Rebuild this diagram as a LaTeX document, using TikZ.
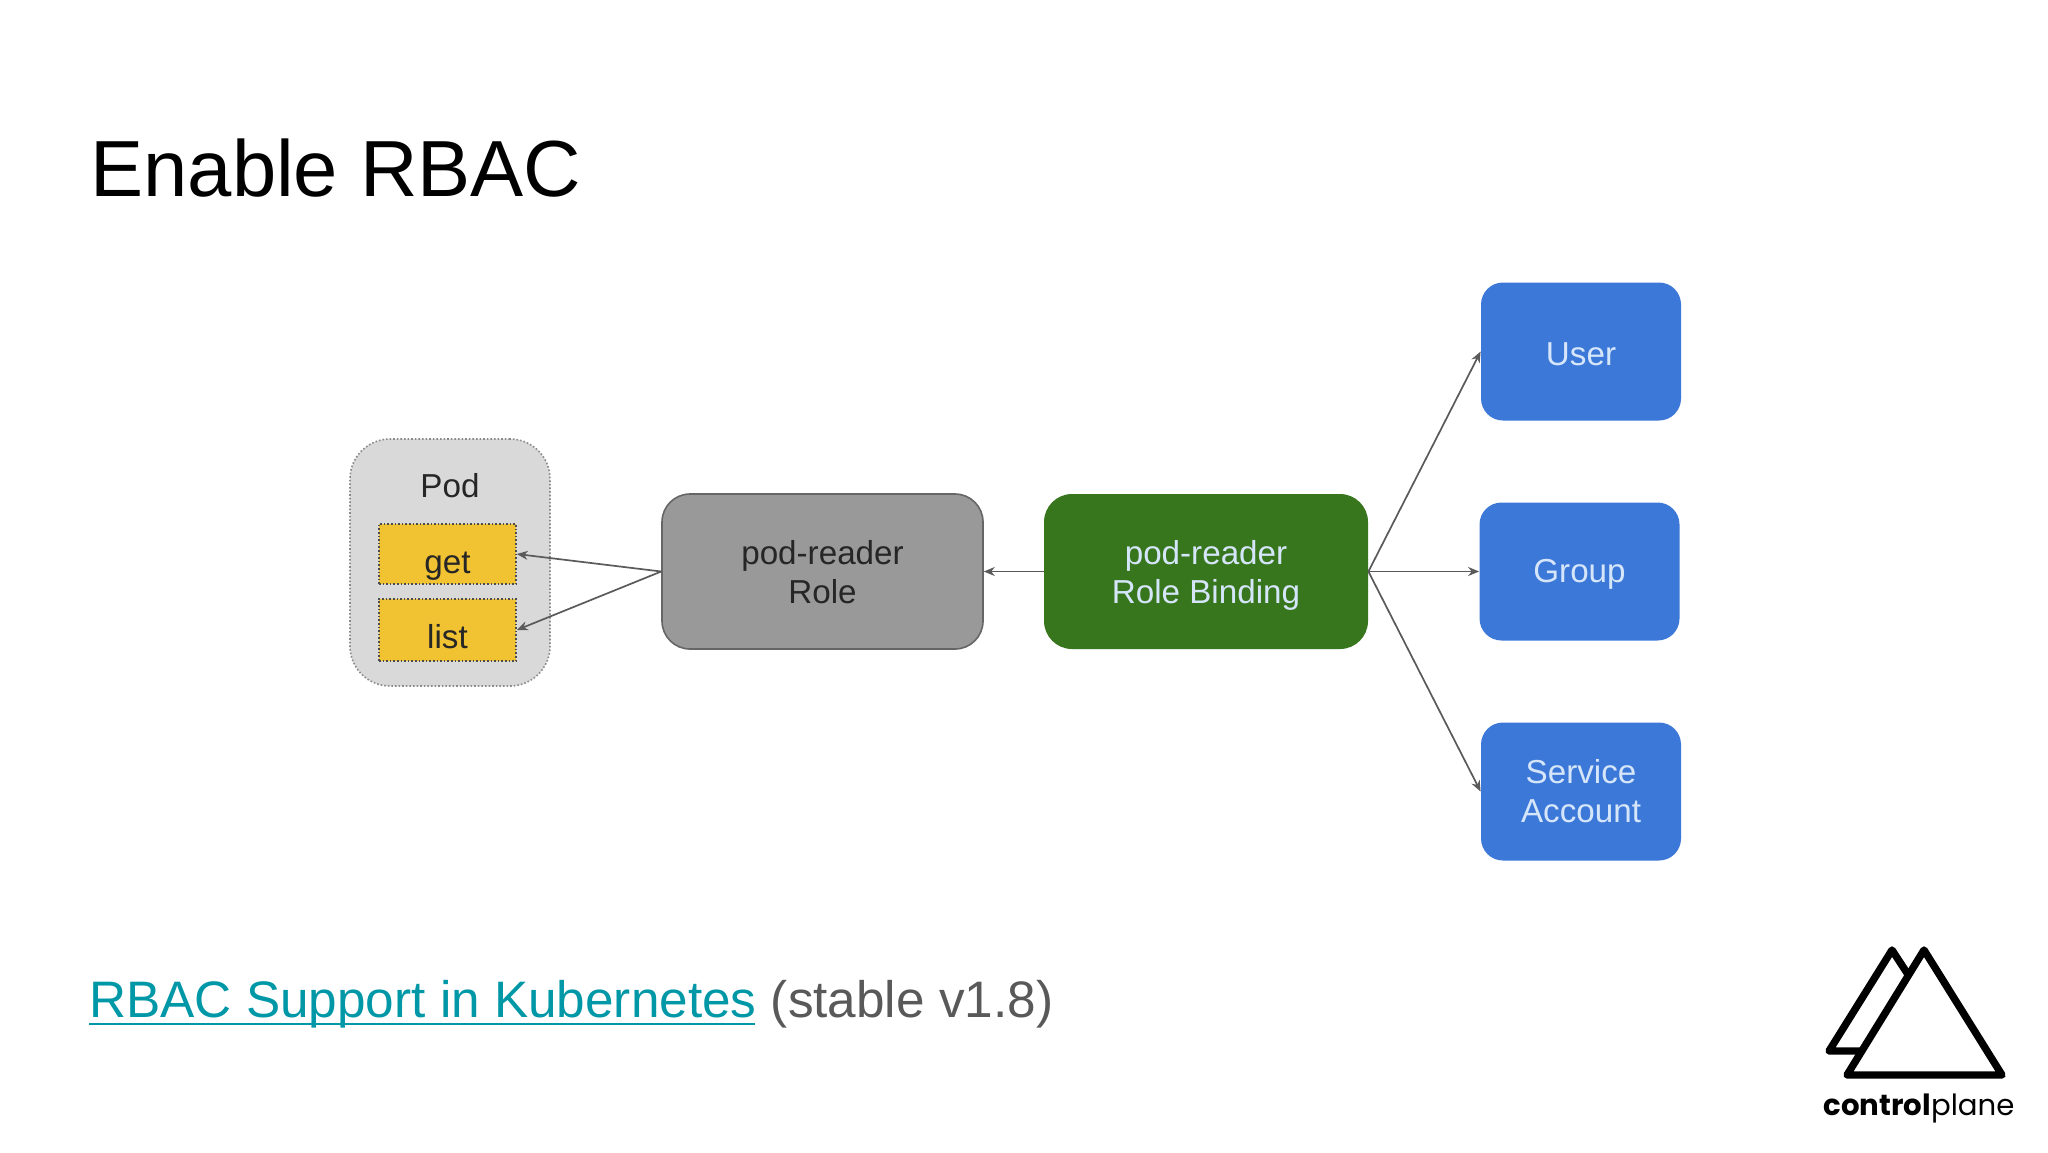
\documentclass[tikz,border=0pt]{standalone}
\usepackage{fontspec}
\setmainfont{Liberation Sans}
\newfontfamily\logofont{Poppins}
\usetikzlibrary{arrows.meta}
\definecolor{podfill}{HTML}{D9D9D9}
\definecolor{podline}{HTML}{8A8A8A}
\definecolor{yel}{HTML}{F1C232}
\definecolor{rolefill}{HTML}{999999}
\definecolor{roleline}{HTML}{666666}
\definecolor{bindfill}{HTML}{38761D}
\definecolor{userfill}{HTML}{3C78D8}
\definecolor{usertext}{HTML}{D6E6FA}
\definecolor{linktext}{HTML}{0097A7}
\definecolor{graytext}{HTML}{595959}
\definecolor{edgecol}{HTML}{5A5A5A}
\tikzset{
  box/.style={rectangle, rounded corners=14pt, inner sep=0pt, align=center, font=\fontsize{16.6}{19.5}\selectfont, text=black!85},
  blue/.style={box, fill=userfill, text=usertext, minimum width=100pt, minimum height=69pt, rounded corners=11pt},
  act/.style={rectangle, inner sep=0pt, fill=yel, draw=black!70, densely dotted, line width=0.8pt, minimum width=68.5pt, text=black!85, font=\fontsize{16.6}{19.5}\selectfont, text depth=0pt},
  edge/.style={draw=edgecol, line width=0.85pt, -{Stealth[length=5.5pt,width=4.5pt]}},
  logoline/.style={line width=3.7pt, line join=round, line cap=round, black}
}
\begin{document}
\begin{tikzpicture}[x=0.5pt,y=-0.5pt]
\useasboundingbox (0,0) rectangle (2048,1152);
\fill[white] (0,0) rectangle (2048,1152);
\node[anchor=base west, inner sep=0pt, font=\fontsize{39.8}{40}\selectfont] (title) at (90,196) {Enable RBAC};
\node[box, fill=podfill, draw=podline, densely dotted, line width=0.8pt, minimum width=100pt, minimum height=123.5pt, rounded corners=20pt] (pod) at (450,562.5) {};
\node[anchor=base, inner sep=0pt, font=\fontsize{16.6}{19.5}\selectfont, text=black!85] (podlabel) at (450,497) {Pod};
\node[act, minimum height=30pt, text height=19pt] (get) at (447.5,554) {get};
\node[act, minimum height=31pt, text height=18pt] (list) at (447.5,630) {list};
\node[box, fill=rolefill, draw=roleline, line width=0.8pt, minimum width=160.5pt, minimum height=77.5pt] (role) at (822.5,571.5) {\rule{0pt}{13.1pt}pod-reader\\Role};
\node[box, fill=bindfill, text=usertext, minimum width=162pt, minimum height=77.5pt] (bind) at (1206,571.5) {\rule{0pt}{15.6pt}pod-reader\\Role Binding};
\node[blue, text height=14pt, text depth=0pt] (user) at (1581,351.5) {User};
\node[blue, text height=11pt, text depth=0pt] (group) at (1579.5,571.5) {Group};
\node[blue] (svc) at (1581,791.5) {Service\\Account};
\draw[edge] (role.west) -- (get.east);
\draw[edge] (role.west) -- (list.east);
\draw[edge] (bind.west) -- (role.east);
\draw[edge] (bind.east) -- (user.west);
\draw[edge] (bind.east) -- (group.west);
\draw[edge] (bind.east) -- (svc.west);
\node[anchor=base west, inner sep=0pt, font=\fontsize{25.65}{26}\selectfont] (link) at (89,1017) {\textcolor{linktext}{RBAC Support in Kubernetes}~\textcolor{graytext}{(stable v1.8)}};
\coordinate (ul) at (89,1024);
\coordinate (ur) at (755,1024);
\draw[linktext, line width=1.3pt] (ul) -- (ur);
\draw[logoline] (1907,973) -- (1892,950) -- (1829,1051) -- (1860,1051);
\draw[logoline] (1924,950) -- (1847,1075) -- (2002,1075) -- cycle;
\node[anchor=base, inner sep=0pt, font=\fontsize{14.6}{15}\logofont\selectfont] (logo) at (1919,1115) {\textbf{control}plane};
\end{tikzpicture}
\end{document}
